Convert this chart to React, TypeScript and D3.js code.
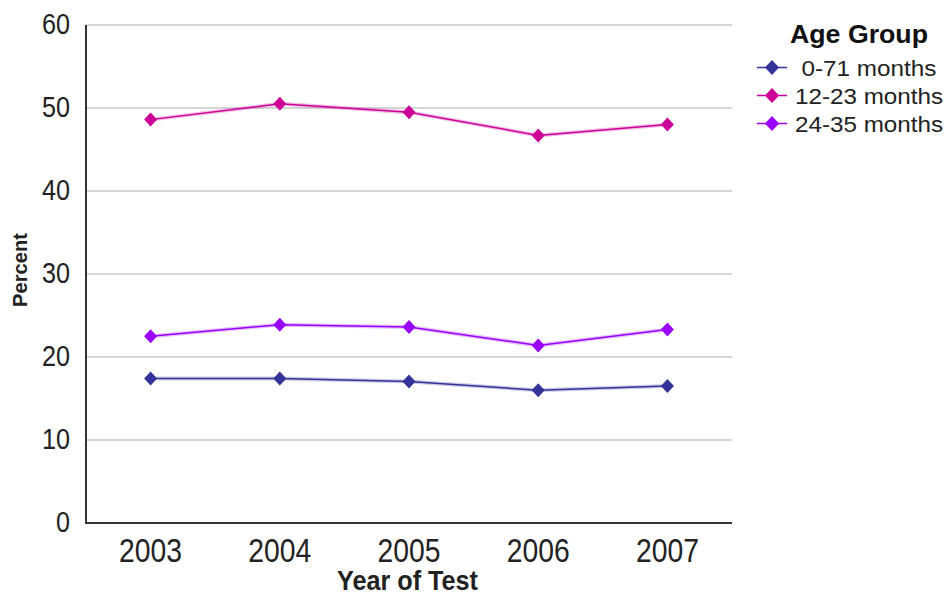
import React from "react";
import * as d3 from "d3";

const years = ["2003", "2004", "2005", "2006", "2007"];
const seriesNames = ["0-71 months", "12-23 months", "24-35 months"];
const seriesColors = ["#333399", "#CC0099", "#9900FF"];
const s0to71 = [17.4, 17.4, 17.05, 16.0, 16.5];
const s12to23 = [48.6, 50.5, 49.5, 46.7, 48.0];
const s24to35 = [22.5, 23.9, 23.6, 21.4, 23.3];
const yTicks = [0, 10, 20, 30, 40, 50, 60];

const allSeries = [s0to71, s12to23, s24to35];

const diamondPath = (hw: number, hh: number) => `M0,${-hh}L${hw},0L0,${hh}L${-hw},0Z`;

export default function App() {
  const W = 945, H = 594;
  const left = 86, right = 732, top = 25, bottom = 523;
  const x = d3.scaleBand().domain(years).range([left, right]);
  const y = d3.scaleLinear().domain([0, 60]).range([bottom, top]);
  const cx = (i: number) => x(years[i])! + x.bandwidth() / 2;
  const line = d3.line<number>().x((_, i) => cx(i)).y((d) => y(d));
  const dm = diamondPath(6.5, 7);
  const font = "'Liberation Sans', Arial, sans-serif";
  const legendX = [801.5, 795, 795];
  const legendLen = [135, 148, 148];
  return (
    <div style={{ position: "absolute", left: 0, top: 0 }}>
      <svg width={W} height={H} style={{ display: "block", fontFamily: font }}>
        <rect width={W} height={H} fill="#fff" />
        {yTicks.filter((t) => t > 0).map((t) => (
          <line key={t} x1={left} x2={right} y1={y(t)} y2={y(t)} stroke="#c8c8c8" strokeWidth={1.3} />
        ))}
        {yTicks.map((t) => (
          <text key={t} x={70} y={y(t) + 8.5} textAnchor="end" fontSize={29} fill="#222"
            textLength={14 * String(t).length} lengthAdjust="spacingAndGlyphs">{t}</text>
        ))}
        {allSeries.map((s, si) => (
          <g key={si}>
            <path d={line(s)!} fill="none" stroke={seriesColors[si]} strokeOpacity={0.25} strokeWidth={4} />
            <path d={line(s)!} fill="none" stroke={seriesColors[si]} strokeWidth={1.5} />
            {s.map((v, i) => (
              <path key={i} d={dm} transform={`translate(${cx(i)},${y(v)})`} fill={seriesColors[si]} />
            ))}
          </g>
        ))}
        <line x1={left} x2={left} y1={top} y2={bottom} stroke="#333" strokeWidth={2} />
        <line x1={left - 1} x2={right} y1={bottom} y2={bottom} stroke="#333" strokeWidth={2} />
        {years.map((yr) => (
          <text key={yr} x={x(yr)! + x.bandwidth() / 2} y={561.5} textAnchor="middle" fontSize={32.5} fill="#222"
            textLength={63} lengthAdjust="spacingAndGlyphs">{yr}</text>
        ))}
        <text x={337} y={589.5} fontSize={27} fontWeight="bold" fill="#222"
          textLength={141} lengthAdjust="spacingAndGlyphs">Year of Test</text>
        <text transform={`translate(26.5,307) rotate(-90)`} fontSize={21} fontWeight="bold" fill="#222"
          textLength={74} lengthAdjust="spacingAndGlyphs">Percent</text>
        <text x={790} y={43.3} fontSize={25.5} fontWeight="bold" fill="#111"
          textLength={138} lengthAdjust="spacingAndGlyphs">Age Group</text>
        {seriesNames.map((n, i) => (
          <g key={n}>
            <line x1={757} x2={787} y1={67.5 + i * 28} y2={67.5 + i * 28} stroke={seriesColors[i]} strokeWidth={1.5} />
            <path d={diamondPath(7, 7.5)} transform={`translate(772,${67.5 + i * 28})`} fill={seriesColors[i]} />
            <text x={legendX[i]} y={75.7 + i * 28} fontSize={22} fill="#222"
              textLength={legendLen[i]} lengthAdjust="spacingAndGlyphs">{n}</text>
          </g>
        ))}
      </svg>
    </div>
  );
}
